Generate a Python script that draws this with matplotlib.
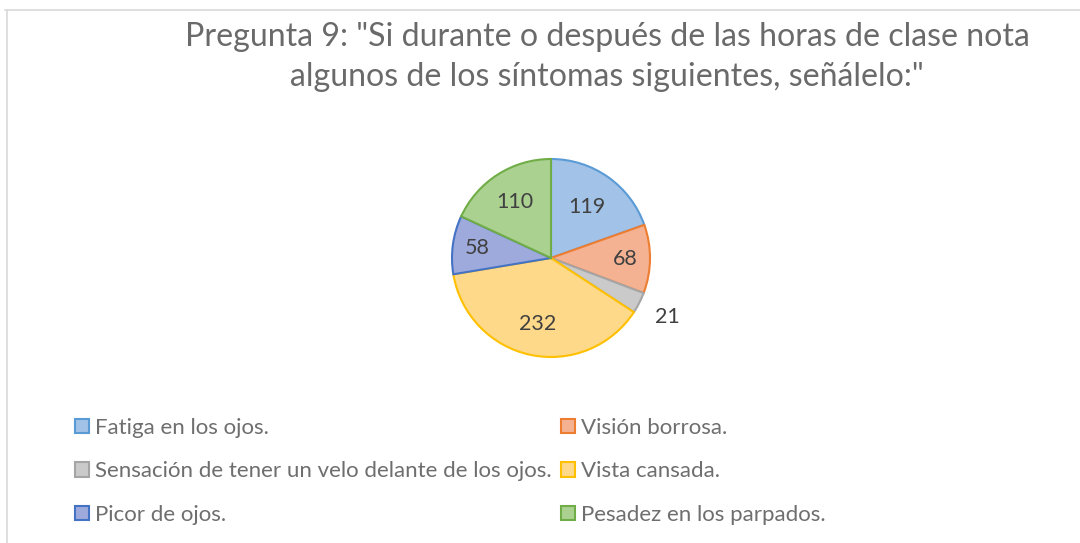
import matplotlib
matplotlib.use("Agg")
import matplotlib.pyplot as plt
import numpy as np
from matplotlib.patches import Patch

categories = ["Fatiga en los ojos.", "Visión borrosa.",
              "Sensación de tener un velo delante de los ojos.", "Vista cansada.",
              "Picor de ojos.", "Pesadez en los parpados."]
values = [119, 68, 21, 232, 58, 110]
title = 'Pregunta 9: "Si durante o después de las horas de clase nota\nalgunos de los síntomas siguientes, señálelo:"'

edge_colors = ["#5B9BD5", "#ED7D31", "#A5A5A5", "#FFC000", "#4472C4", "#70AD47"]
fill_colors = ["#a2c2e7", "#f5b293", "#cacaca", "#ffd98a", "#9eaadc", "#abd191"]
label_dist = [0.63, 0.75, 1.32, 0.68, 0.75, 0.67]

plt.rcParams['font.family'] = ['Lato', 'DejaVu Sans']
W, H = 1080, 543
fig = plt.figure(figsize=(W/100, H/100), dpi=100)
fig.patch.set_facecolor("white")

# chart frame
fig.add_artist(plt.Line2D([5/W, 1], [1-10/H, 1-10/H], color="#d9d9d9", lw=1.2, transform=fig.transFigure))
fig.add_artist(plt.Line2D([6.5/W, 6.5/W], [0, 1-10/H], color="#d9d9d9", lw=1.2, transform=fig.transFigure))

cx, cy, r = 551, 258, 99
ax = fig.add_axes([(cx-r)/W, (H-cy-r)/H, 2*r/W, 2*r/H])
wedges, _ = ax.pie(values, startangle=90, counterclock=False, radius=1.0,
                   colors=fill_colors,
                   wedgeprops=dict(linewidth=1.5))
for w, ec in zip(wedges, edge_colors):
    w.set_edgecolor(ec)
ax.set_xlim(-1, 1); ax.set_ylim(-1, 1)
ax.set_aspect('equal')
for w, v, d in zip(wedges, values, label_dist):
    ang = np.deg2rad((w.theta1 + w.theta2) / 2)
    ax.text(d*np.cos(ang), d*np.sin(ang), str(v), ha='center', va='center',
            fontsize=15.5, color="#404040")

fig.text(607/W, 1-57/H, title, ha='center', va='center', fontsize=23.1,
         color="#6a6a6a", linespacing=1.42)

handles = [Patch(facecolor=f, edgecolor=e, linewidth=1.5) for f, e in zip(fill_colors, edge_colors)]
order = [0, 2, 4, 1, 3, 5]
leg = fig.legend([handles[i] for i in order], [categories[i] for i in order], ncol=2,
                 loc='upper left', bbox_to_anchor=(75/W, 1-418/H), frameon=False,
                 fontsize=16, handlelength=0.62, handleheight=0.62, handletextpad=0.3,
                 columnspacing=0.4, labelspacing=1.05, borderpad=0, borderaxespad=0)
for t in leg.get_texts():
    t.set_color("#6e6e6e")

fig.savefig("out.png", dpi=100, facecolor="white")
